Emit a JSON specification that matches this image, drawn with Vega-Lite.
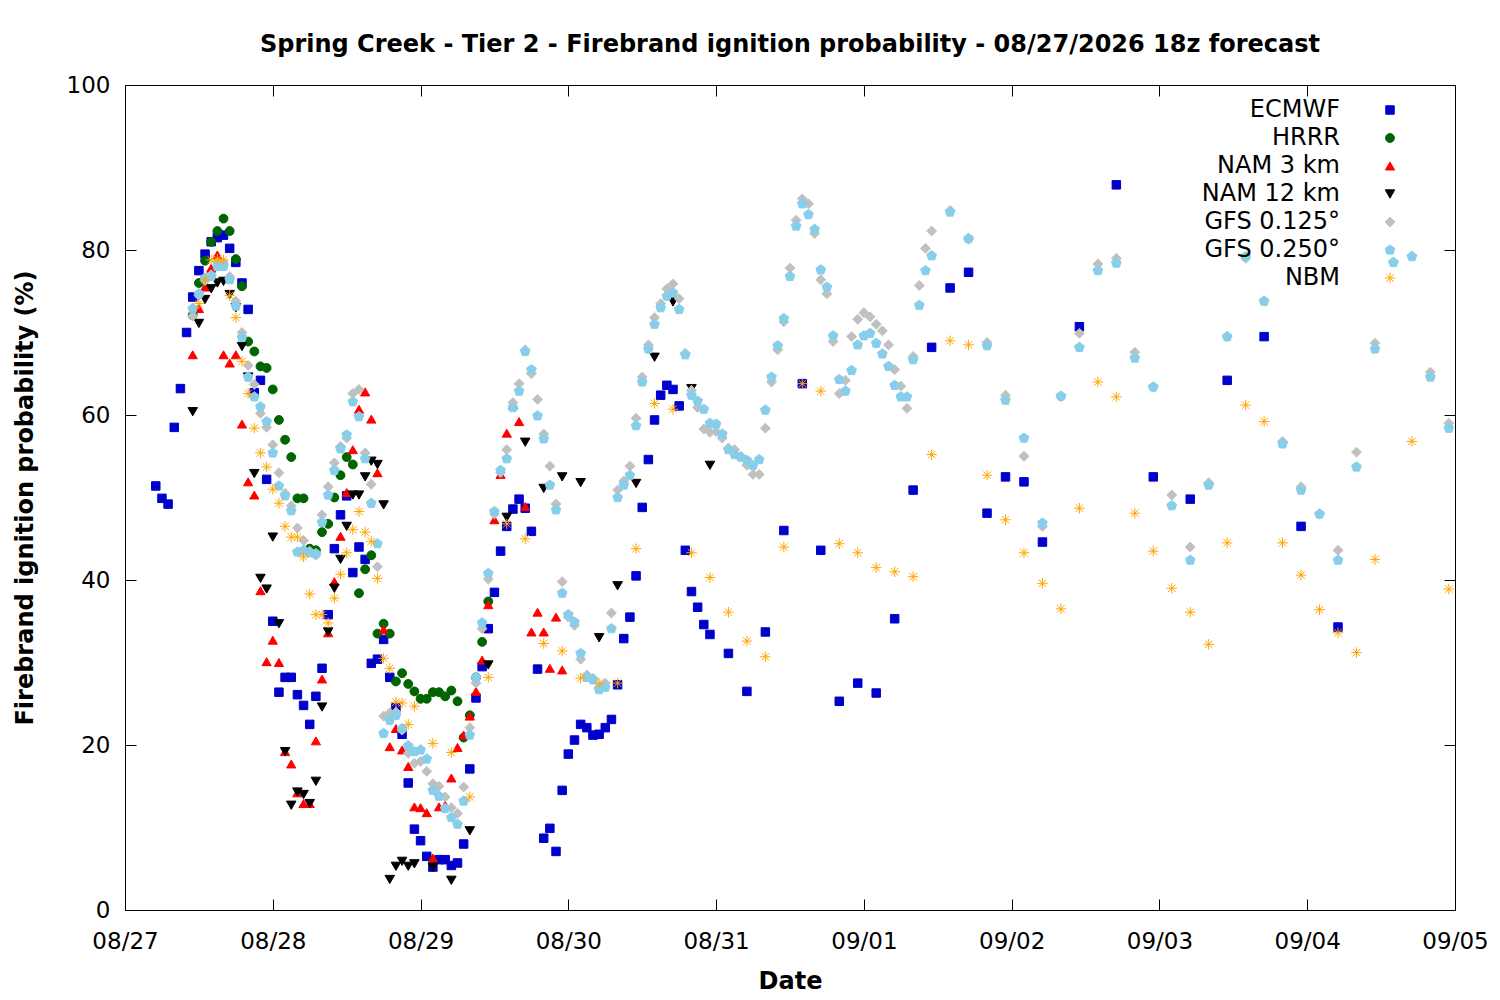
{
  "$schema": "https://vega.github.io/schema/vega-lite/v6.json",
  "autosize": "none",
  "width": 1330,
  "height": 825,
  "padding": {"left": 125, "top": 85, "right": 45, "bottom": 90},
  "background": "white",
  "title": {
    "text": "Spring Creek - Tier 2 - Firebrand ignition probability - 08/27/2026 18z forecast",
    "fontSize": 24,
    "fontWeight": "bold",
    "color": "black",
    "anchor": "middle",
    "offset": 17
  },
  "data": {
    "values": [
      {"m": "ECMWF", "h": 5, "v": 51.4}, {"m": "ECMWF", "h": 6, "v": 49.9}, {"m": "ECMWF", "h": 7, "v": 49.2},
      {"m": "ECMWF", "h": 8, "v": 58.5}, {"m": "ECMWF", "h": 9, "v": 63.2}, {"m": "ECMWF", "h": 10, "v": 70.0},
      {"m": "ECMWF", "h": 11, "v": 74.3}, {"m": "ECMWF", "h": 12, "v": 77.5}, {"m": "ECMWF", "h": 13, "v": 79.5},
      {"m": "ECMWF", "h": 14, "v": 81.0}, {"m": "ECMWF", "h": 15, "v": 81.5}, {"m": "ECMWF", "h": 16, "v": 81.8},
      {"m": "ECMWF", "h": 17, "v": 80.2}, {"m": "ECMWF", "h": 18, "v": 78.5}, {"m": "ECMWF", "h": 19, "v": 76.0},
      {"m": "ECMWF", "h": 20, "v": 72.8}, {"m": "ECMWF", "h": 21, "v": 62.7}, {"m": "ECMWF", "h": 22, "v": 64.2},
      {"m": "ECMWF", "h": 23, "v": 52.2}, {"m": "ECMWF", "h": 24, "v": 35.0}, {"m": "ECMWF", "h": 25, "v": 26.4},
      {"m": "ECMWF", "h": 26, "v": 28.2}, {"m": "ECMWF", "h": 27, "v": 28.2}, {"m": "ECMWF", "h": 28, "v": 26.1},
      {"m": "ECMWF", "h": 29, "v": 24.8}, {"m": "ECMWF", "h": 30, "v": 22.5}, {"m": "ECMWF", "h": 31, "v": 25.9},
      {"m": "ECMWF", "h": 32, "v": 29.3}, {"m": "ECMWF", "h": 33, "v": 35.8}, {"m": "ECMWF", "h": 34, "v": 43.8},
      {"m": "ECMWF", "h": 35, "v": 47.9}, {"m": "ECMWF", "h": 36, "v": 50.2}, {"m": "ECMWF", "h": 37, "v": 40.9},
      {"m": "ECMWF", "h": 38, "v": 44.0}, {"m": "ECMWF", "h": 39, "v": 42.5}, {"m": "ECMWF", "h": 40, "v": 29.9},
      {"m": "ECMWF", "h": 41, "v": 30.4}, {"m": "ECMWF", "h": 42, "v": 32.8}, {"m": "ECMWF", "h": 43, "v": 28.2},
      {"m": "ECMWF", "h": 44, "v": 24.5}, {"m": "ECMWF", "h": 45, "v": 21.3}, {"m": "ECMWF", "h": 46, "v": 15.4},
      {"m": "ECMWF", "h": 47, "v": 9.8}, {"m": "ECMWF", "h": 48, "v": 8.4}, {"m": "ECMWF", "h": 49, "v": 6.5},
      {"m": "ECMWF", "h": 50, "v": 5.2}, {"m": "ECMWF", "h": 51, "v": 6.1}, {"m": "ECMWF", "h": 52, "v": 6.1},
      {"m": "ECMWF", "h": 53, "v": 5.4}, {"m": "ECMWF", "h": 54, "v": 5.7}, {"m": "ECMWF", "h": 55, "v": 8.0},
      {"m": "ECMWF", "h": 56, "v": 17.1}, {"m": "ECMWF", "h": 57, "v": 25.7}, {"m": "ECMWF", "h": 58, "v": 29.5},
      {"m": "ECMWF", "h": 59, "v": 34.1}, {"m": "ECMWF", "h": 60, "v": 38.5}, {"m": "ECMWF", "h": 61, "v": 43.5},
      {"m": "ECMWF", "h": 62, "v": 46.5}, {"m": "ECMWF", "h": 63, "v": 48.6}, {"m": "ECMWF", "h": 64, "v": 49.8},
      {"m": "ECMWF", "h": 65, "v": 48.7}, {"m": "ECMWF", "h": 66, "v": 45.9}, {"m": "ECMWF", "h": 67, "v": 29.2},
      {"m": "ECMWF", "h": 68, "v": 8.7}, {"m": "ECMWF", "h": 69, "v": 9.9}, {"m": "ECMWF", "h": 70, "v": 7.1},
      {"m": "ECMWF", "h": 71, "v": 14.5}, {"m": "ECMWF", "h": 72, "v": 18.9}, {"m": "ECMWF", "h": 73, "v": 20.6},
      {"m": "ECMWF", "h": 74, "v": 22.5}, {"m": "ECMWF", "h": 75, "v": 22.1}, {"m": "ECMWF", "h": 76, "v": 21.2},
      {"m": "ECMWF", "h": 77, "v": 21.3}, {"m": "ECMWF", "h": 78, "v": 22.1}, {"m": "ECMWF", "h": 79, "v": 23.1},
      {"m": "ECMWF", "h": 80, "v": 27.3}, {"m": "ECMWF", "h": 81, "v": 32.9}, {"m": "ECMWF", "h": 82, "v": 35.5},
      {"m": "ECMWF", "h": 83, "v": 40.5}, {"m": "ECMWF", "h": 84, "v": 48.8}, {"m": "ECMWF", "h": 85, "v": 54.6},
      {"m": "ECMWF", "h": 86, "v": 59.4}, {"m": "ECMWF", "h": 87, "v": 62.4}, {"m": "ECMWF", "h": 88, "v": 63.6},
      {"m": "ECMWF", "h": 89, "v": 63.1}, {"m": "ECMWF", "h": 90, "v": 61.1}, {"m": "ECMWF", "h": 91, "v": 43.6},
      {"m": "ECMWF", "h": 92, "v": 38.6}, {"m": "ECMWF", "h": 93, "v": 36.7}, {"m": "ECMWF", "h": 94, "v": 34.6},
      {"m": "ECMWF", "h": 95, "v": 33.4}, {"m": "ECMWF", "h": 98, "v": 31.1}, {"m": "ECMWF", "h": 101, "v": 26.5},
      {"m": "ECMWF", "h": 104, "v": 33.7}, {"m": "ECMWF", "h": 107, "v": 46.0}, {"m": "ECMWF", "h": 110, "v": 63.8},
      {"m": "ECMWF", "h": 113, "v": 43.6}, {"m": "ECMWF", "h": 116, "v": 25.3}, {"m": "ECMWF", "h": 119, "v": 27.5},
      {"m": "ECMWF", "h": 122, "v": 26.3}, {"m": "ECMWF", "h": 125, "v": 35.3}, {"m": "ECMWF", "h": 128, "v": 50.9},
      {"m": "ECMWF", "h": 131, "v": 68.2}, {"m": "ECMWF", "h": 134, "v": 75.4}, {"m": "ECMWF", "h": 137, "v": 77.3},
      {"m": "ECMWF", "h": 140, "v": 48.1}, {"m": "ECMWF", "h": 143, "v": 52.5}, {"m": "ECMWF", "h": 146, "v": 51.9},
      {"m": "ECMWF", "h": 149, "v": 44.6}, {"m": "ECMWF", "h": 155, "v": 70.7}, {"m": "ECMWF", "h": 161, "v": 87.9},
      {"m": "ECMWF", "h": 167, "v": 52.5}, {"m": "ECMWF", "h": 173, "v": 49.8}, {"m": "ECMWF", "h": 179, "v": 64.2},
      {"m": "ECMWF", "h": 185, "v": 69.5}, {"m": "ECMWF", "h": 191, "v": 46.5}, {"m": "ECMWF", "h": 197, "v": 34.3},

      {"m": "HRRR", "h": 11, "v": 72.1}, {"m": "HRRR", "h": 12, "v": 76.0}, {"m": "HRRR", "h": 13, "v": 78.7},
      {"m": "HRRR", "h": 14, "v": 81.0}, {"m": "HRRR", "h": 15, "v": 82.3}, {"m": "HRRR", "h": 16, "v": 83.8},
      {"m": "HRRR", "h": 17, "v": 82.3}, {"m": "HRRR", "h": 18, "v": 78.9}, {"m": "HRRR", "h": 19, "v": 75.6},
      {"m": "HRRR", "h": 20, "v": 68.9}, {"m": "HRRR", "h": 21, "v": 67.7}, {"m": "HRRR", "h": 22, "v": 65.9},
      {"m": "HRRR", "h": 23, "v": 65.7}, {"m": "HRRR", "h": 24, "v": 63.1}, {"m": "HRRR", "h": 25, "v": 59.4},
      {"m": "HRRR", "h": 26, "v": 57.0}, {"m": "HRRR", "h": 27, "v": 54.9}, {"m": "HRRR", "h": 28, "v": 49.9},
      {"m": "HRRR", "h": 29, "v": 49.9}, {"m": "HRRR", "h": 30, "v": 43.8}, {"m": "HRRR", "h": 31, "v": 43.6},
      {"m": "HRRR", "h": 32, "v": 45.8}, {"m": "HRRR", "h": 33, "v": 46.8}, {"m": "HRRR", "h": 34, "v": 50.0},
      {"m": "HRRR", "h": 35, "v": 52.7}, {"m": "HRRR", "h": 36, "v": 54.9}, {"m": "HRRR", "h": 37, "v": 54.0},
      {"m": "HRRR", "h": 38, "v": 38.4}, {"m": "HRRR", "h": 39, "v": 41.3}, {"m": "HRRR", "h": 40, "v": 43.0},
      {"m": "HRRR", "h": 41, "v": 33.5}, {"m": "HRRR", "h": 42, "v": 34.7}, {"m": "HRRR", "h": 43, "v": 33.5},
      {"m": "HRRR", "h": 44, "v": 27.7}, {"m": "HRRR", "h": 45, "v": 28.7}, {"m": "HRRR", "h": 46, "v": 27.4},
      {"m": "HRRR", "h": 47, "v": 26.5}, {"m": "HRRR", "h": 48, "v": 25.6}, {"m": "HRRR", "h": 49, "v": 25.6},
      {"m": "HRRR", "h": 50, "v": 26.4}, {"m": "HRRR", "h": 51, "v": 26.4}, {"m": "HRRR", "h": 52, "v": 25.9},
      {"m": "HRRR", "h": 53, "v": 26.6}, {"m": "HRRR", "h": 54, "v": 25.3}, {"m": "HRRR", "h": 55, "v": 20.9},
      {"m": "HRRR", "h": 56, "v": 23.6}, {"m": "HRRR", "h": 57, "v": 28.2}, {"m": "HRRR", "h": 58, "v": 32.5},
      {"m": "HRRR", "h": 59, "v": 37.4},

      {"m": "NAM 3 km", "h": 11, "v": 67.3}, {"m": "NAM 3 km", "h": 12, "v": 72.9}, {"m": "NAM 3 km", "h": 13, "v": 75.5},
      {"m": "NAM 3 km", "h": 14, "v": 77.8}, {"m": "NAM 3 km", "h": 15, "v": 79.4}, {"m": "NAM 3 km", "h": 16, "v": 67.3},
      {"m": "NAM 3 km", "h": 17, "v": 66.3}, {"m": "NAM 3 km", "h": 18, "v": 67.3}, {"m": "NAM 3 km", "h": 19, "v": 58.9},
      {"m": "NAM 3 km", "h": 20, "v": 51.9}, {"m": "NAM 3 km", "h": 21, "v": 50.3}, {"m": "NAM 3 km", "h": 22, "v": 38.7},
      {"m": "NAM 3 km", "h": 23, "v": 30.1}, {"m": "NAM 3 km", "h": 24, "v": 32.7}, {"m": "NAM 3 km", "h": 25, "v": 30.0},
      {"m": "NAM 3 km", "h": 26, "v": 19.2}, {"m": "NAM 3 km", "h": 27, "v": 17.7}, {"m": "NAM 3 km", "h": 28, "v": 14.2},
      {"m": "NAM 3 km", "h": 29, "v": 12.9}, {"m": "NAM 3 km", "h": 30, "v": 12.9}, {"m": "NAM 3 km", "h": 31, "v": 20.5},
      {"m": "NAM 3 km", "h": 32, "v": 28.0}, {"m": "NAM 3 km", "h": 33, "v": 33.6}, {"m": "NAM 3 km", "h": 34, "v": 39.8},
      {"m": "NAM 3 km", "h": 35, "v": 45.3}, {"m": "NAM 3 km", "h": 36, "v": 50.6}, {"m": "NAM 3 km", "h": 37, "v": 55.8},
      {"m": "NAM 3 km", "h": 38, "v": 60.7}, {"m": "NAM 3 km", "h": 39, "v": 62.8}, {"m": "NAM 3 km", "h": 40, "v": 59.5},
      {"m": "NAM 3 km", "h": 41, "v": 53.0}, {"m": "NAM 3 km", "h": 42, "v": 34.0}, {"m": "NAM 3 km", "h": 43, "v": 19.8},
      {"m": "NAM 3 km", "h": 44, "v": 22.0}, {"m": "NAM 3 km", "h": 45, "v": 19.4}, {"m": "NAM 3 km", "h": 46, "v": 17.4},
      {"m": "NAM 3 km", "h": 47, "v": 12.5}, {"m": "NAM 3 km", "h": 48, "v": 12.4}, {"m": "NAM 3 km", "h": 49, "v": 11.8},
      {"m": "NAM 3 km", "h": 50, "v": 6.3}, {"m": "NAM 3 km", "h": 51, "v": 12.5}, {"m": "NAM 3 km", "h": 52, "v": 12.7},
      {"m": "NAM 3 km", "h": 53, "v": 16.0}, {"m": "NAM 3 km", "h": 54, "v": 19.7}, {"m": "NAM 3 km", "h": 55, "v": 21.2},
      {"m": "NAM 3 km", "h": 56, "v": 23.5}, {"m": "NAM 3 km", "h": 57, "v": 26.5}, {"m": "NAM 3 km", "h": 58, "v": 30.3},
      {"m": "NAM 3 km", "h": 59, "v": 37.0}, {"m": "NAM 3 km", "h": 60, "v": 47.3}, {"m": "NAM 3 km", "h": 61, "v": 52.8},
      {"m": "NAM 3 km", "h": 62, "v": 57.8}, {"m": "NAM 3 km", "h": 63, "v": 61.2}, {"m": "NAM 3 km", "h": 64, "v": 59.2},
      {"m": "NAM 3 km", "h": 65, "v": 48.9}, {"m": "NAM 3 km", "h": 66, "v": 33.7}, {"m": "NAM 3 km", "h": 67, "v": 36.1},
      {"m": "NAM 3 km", "h": 68, "v": 33.7}, {"m": "NAM 3 km", "h": 69, "v": 29.3}, {"m": "NAM 3 km", "h": 70, "v": 35.5},
      {"m": "NAM 3 km", "h": 71, "v": 29.1},

      {"m": "NAM 12 km", "h": 11, "v": 60.4}, {"m": "NAM 12 km", "h": 12, "v": 71.1}, {"m": "NAM 12 km", "h": 13, "v": 74.0},
      {"m": "NAM 12 km", "h": 14, "v": 75.3}, {"m": "NAM 12 km", "h": 15, "v": 76.0}, {"m": "NAM 12 km", "h": 16, "v": 76.2},
      {"m": "NAM 12 km", "h": 17, "v": 74.6}, {"m": "NAM 12 km", "h": 18, "v": 73.0}, {"m": "NAM 12 km", "h": 19, "v": 68.3},
      {"m": "NAM 12 km", "h": 20, "v": 64.6}, {"m": "NAM 12 km", "h": 21, "v": 52.9}, {"m": "NAM 12 km", "h": 22, "v": 40.2},
      {"m": "NAM 12 km", "h": 23, "v": 38.9}, {"m": "NAM 12 km", "h": 24, "v": 45.2}, {"m": "NAM 12 km", "h": 25, "v": 34.7},
      {"m": "NAM 12 km", "h": 26, "v": 19.2}, {"m": "NAM 12 km", "h": 27, "v": 12.7}, {"m": "NAM 12 km", "h": 28, "v": 14.3},
      {"m": "NAM 12 km", "h": 29, "v": 14.0}, {"m": "NAM 12 km", "h": 30, "v": 12.9}, {"m": "NAM 12 km", "h": 31, "v": 15.6},
      {"m": "NAM 12 km", "h": 32, "v": 24.6}, {"m": "NAM 12 km", "h": 33, "v": 33.7}, {"m": "NAM 12 km", "h": 34, "v": 39.0},
      {"m": "NAM 12 km", "h": 35, "v": 42.5}, {"m": "NAM 12 km", "h": 36, "v": 46.5}, {"m": "NAM 12 km", "h": 37, "v": 50.3},
      {"m": "NAM 12 km", "h": 38, "v": 50.3}, {"m": "NAM 12 km", "h": 39, "v": 52.5}, {"m": "NAM 12 km", "h": 40, "v": 54.4},
      {"m": "NAM 12 km", "h": 41, "v": 54.0}, {"m": "NAM 12 km", "h": 42, "v": 49.1}, {"m": "NAM 12 km", "h": 43, "v": 3.7},
      {"m": "NAM 12 km", "h": 44, "v": 5.3}, {"m": "NAM 12 km", "h": 45, "v": 5.9}, {"m": "NAM 12 km", "h": 46, "v": 5.3},
      {"m": "NAM 12 km", "h": 47, "v": 5.6}, {"m": "NAM 12 km", "h": 50, "v": 5.2}, {"m": "NAM 12 km", "h": 53, "v": 3.6},
      {"m": "NAM 12 km", "h": 56, "v": 9.6}, {"m": "NAM 12 km", "h": 59, "v": 29.7}, {"m": "NAM 12 km", "h": 62, "v": 47.6},
      {"m": "NAM 12 km", "h": 65, "v": 56.7}, {"m": "NAM 12 km", "h": 68, "v": 51.1}, {"m": "NAM 12 km", "h": 71, "v": 52.5},
      {"m": "NAM 12 km", "h": 74, "v": 51.8}, {"m": "NAM 12 km", "h": 77, "v": 33.0}, {"m": "NAM 12 km", "h": 80, "v": 39.3},
      {"m": "NAM 12 km", "h": 83, "v": 51.7}, {"m": "NAM 12 km", "h": 86, "v": 67.0}, {"m": "NAM 12 km", "h": 89, "v": 73.7},
      {"m": "NAM 12 km", "h": 92, "v": 63.2}, {"m": "NAM 12 km", "h": 95, "v": 53.9},

      {"m": "GFS 0.125°", "h": 11, "v": 72.0}, {"m": "GFS 0.125°", "h": 12, "v": 74.5}, {"m": "GFS 0.125°", "h": 13, "v": 76.3},
      {"m": "GFS 0.125°", "h": 14, "v": 77.0}, {"m": "GFS 0.125°", "h": 15, "v": 78.5}, {"m": "GFS 0.125°", "h": 16, "v": 78.5},
      {"m": "GFS 0.125°", "h": 17, "v": 76.8}, {"m": "GFS 0.125°", "h": 18, "v": 73.8}, {"m": "GFS 0.125°", "h": 19, "v": 70.0},
      {"m": "GFS 0.125°", "h": 20, "v": 66.0}, {"m": "GFS 0.125°", "h": 21, "v": 63.7}, {"m": "GFS 0.125°", "h": 22, "v": 60.2},
      {"m": "GFS 0.125°", "h": 23, "v": 58.5}, {"m": "GFS 0.125°", "h": 24, "v": 56.4}, {"m": "GFS 0.125°", "h": 25, "v": 53.0},
      {"m": "GFS 0.125°", "h": 26, "v": 50.5}, {"m": "GFS 0.125°", "h": 27, "v": 49.0}, {"m": "GFS 0.125°", "h": 28, "v": 46.3},
      {"m": "GFS 0.125°", "h": 29, "v": 44.8}, {"m": "GFS 0.125°", "h": 30, "v": 43.5}, {"m": "GFS 0.125°", "h": 31, "v": 43.0},
      {"m": "GFS 0.125°", "h": 32, "v": 47.9}, {"m": "GFS 0.125°", "h": 33, "v": 51.3}, {"m": "GFS 0.125°", "h": 34, "v": 54.2},
      {"m": "GFS 0.125°", "h": 35, "v": 56.2}, {"m": "GFS 0.125°", "h": 36, "v": 57.2}, {"m": "GFS 0.125°", "h": 37, "v": 62.6},
      {"m": "GFS 0.125°", "h": 38, "v": 63.1}, {"m": "GFS 0.125°", "h": 39, "v": 55.4}, {"m": "GFS 0.125°", "h": 40, "v": 51.6},
      {"m": "GFS 0.125°", "h": 41, "v": 41.6}, {"m": "GFS 0.125°", "h": 42, "v": 23.5}, {"m": "GFS 0.125°", "h": 43, "v": 23.9},
      {"m": "GFS 0.125°", "h": 44, "v": 24.0}, {"m": "GFS 0.125°", "h": 45, "v": 21.8}, {"m": "GFS 0.125°", "h": 46, "v": 19.0},
      {"m": "GFS 0.125°", "h": 47, "v": 17.8}, {"m": "GFS 0.125°", "h": 48, "v": 18.0}, {"m": "GFS 0.125°", "h": 49, "v": 16.8},
      {"m": "GFS 0.125°", "h": 50, "v": 15.3}, {"m": "GFS 0.125°", "h": 51, "v": 15.0}, {"m": "GFS 0.125°", "h": 52, "v": 13.7},
      {"m": "GFS 0.125°", "h": 53, "v": 12.4}, {"m": "GFS 0.125°", "h": 54, "v": 11.7}, {"m": "GFS 0.125°", "h": 55, "v": 14.9},
      {"m": "GFS 0.125°", "h": 56, "v": 22.1}, {"m": "GFS 0.125°", "h": 57, "v": 27.5}, {"m": "GFS 0.125°", "h": 58, "v": 34.1},
      {"m": "GFS 0.125°", "h": 59, "v": 40.1}, {"m": "GFS 0.125°", "h": 60, "v": 48.0}, {"m": "GFS 0.125°", "h": 61, "v": 53.0},
      {"m": "GFS 0.125°", "h": 62, "v": 55.8}, {"m": "GFS 0.125°", "h": 63, "v": 61.5}, {"m": "GFS 0.125°", "h": 64, "v": 63.8},
      {"m": "GFS 0.125°", "h": 65, "v": 67.9}, {"m": "GFS 0.125°", "h": 66, "v": 65.0}, {"m": "GFS 0.125°", "h": 67, "v": 61.9},
      {"m": "GFS 0.125°", "h": 68, "v": 57.7}, {"m": "GFS 0.125°", "h": 69, "v": 53.8}, {"m": "GFS 0.125°", "h": 70, "v": 49.2},
      {"m": "GFS 0.125°", "h": 71, "v": 39.8}, {"m": "GFS 0.125°", "h": 72, "v": 35.5}, {"m": "GFS 0.125°", "h": 73, "v": 34.5},
      {"m": "GFS 0.125°", "h": 74, "v": 30.4}, {"m": "GFS 0.125°", "h": 75, "v": 28.5}, {"m": "GFS 0.125°", "h": 76, "v": 28.1},
      {"m": "GFS 0.125°", "h": 77, "v": 27.0}, {"m": "GFS 0.125°", "h": 78, "v": 27.5}, {"m": "GFS 0.125°", "h": 79, "v": 36.0},
      {"m": "GFS 0.125°", "h": 80, "v": 50.9}, {"m": "GFS 0.125°", "h": 81, "v": 52.0}, {"m": "GFS 0.125°", "h": 82, "v": 53.8},
      {"m": "GFS 0.125°", "h": 83, "v": 59.6}, {"m": "GFS 0.125°", "h": 84, "v": 64.6}, {"m": "GFS 0.125°", "h": 85, "v": 68.5},
      {"m": "GFS 0.125°", "h": 86, "v": 71.8}, {"m": "GFS 0.125°", "h": 87, "v": 73.5}, {"m": "GFS 0.125°", "h": 88, "v": 75.3},
      {"m": "GFS 0.125°", "h": 89, "v": 75.9}, {"m": "GFS 0.125°", "h": 90, "v": 74.1}, {"m": "GFS 0.125°", "h": 91, "v": 67.5},
      {"m": "GFS 0.125°", "h": 92, "v": 63.0}, {"m": "GFS 0.125°", "h": 93, "v": 60.9}, {"m": "GFS 0.125°", "h": 94, "v": 58.3},
      {"m": "GFS 0.125°", "h": 95, "v": 57.9}, {"m": "GFS 0.125°", "h": 96, "v": 58.0}, {"m": "GFS 0.125°", "h": 97, "v": 57.2},
      {"m": "GFS 0.125°", "h": 98, "v": 56.0}, {"m": "GFS 0.125°", "h": 99, "v": 55.8}, {"m": "GFS 0.125°", "h": 100, "v": 55.0},
      {"m": "GFS 0.125°", "h": 101, "v": 53.9}, {"m": "GFS 0.125°", "h": 102, "v": 52.8}, {"m": "GFS 0.125°", "h": 103, "v": 52.8},
      {"m": "GFS 0.125°", "h": 104, "v": 58.4}, {"m": "GFS 0.125°", "h": 105, "v": 64.0}, {"m": "GFS 0.125°", "h": 106, "v": 67.9},
      {"m": "GFS 0.125°", "h": 107, "v": 71.3}, {"m": "GFS 0.125°", "h": 108, "v": 77.8}, {"m": "GFS 0.125°", "h": 109, "v": 83.6},
      {"m": "GFS 0.125°", "h": 110, "v": 86.2}, {"m": "GFS 0.125°", "h": 111, "v": 85.6}, {"m": "GFS 0.125°", "h": 112, "v": 82.0},
      {"m": "GFS 0.125°", "h": 113, "v": 76.4}, {"m": "GFS 0.125°", "h": 114, "v": 74.7}, {"m": "GFS 0.125°", "h": 115, "v": 68.9},
      {"m": "GFS 0.125°", "h": 116, "v": 62.6}, {"m": "GFS 0.125°", "h": 117, "v": 64.2}, {"m": "GFS 0.125°", "h": 118, "v": 69.5},
      {"m": "GFS 0.125°", "h": 119, "v": 71.6}, {"m": "GFS 0.125°", "h": 120, "v": 72.4}, {"m": "GFS 0.125°", "h": 121, "v": 71.9},
      {"m": "GFS 0.125°", "h": 122, "v": 71.0}, {"m": "GFS 0.125°", "h": 123, "v": 70.2}, {"m": "GFS 0.125°", "h": 124, "v": 68.5},
      {"m": "GFS 0.125°", "h": 125, "v": 65.5}, {"m": "GFS 0.125°", "h": 126, "v": 63.5}, {"m": "GFS 0.125°", "h": 127, "v": 60.8},
      {"m": "GFS 0.125°", "h": 128, "v": 67.1}, {"m": "GFS 0.125°", "h": 129, "v": 75.7}, {"m": "GFS 0.125°", "h": 130, "v": 80.2},
      {"m": "GFS 0.125°", "h": 131, "v": 82.3}, {"m": "GFS 0.125°", "h": 134, "v": 84.8}, {"m": "GFS 0.125°", "h": 137, "v": 81.3},
      {"m": "GFS 0.125°", "h": 140, "v": 68.8}, {"m": "GFS 0.125°", "h": 143, "v": 62.4}, {"m": "GFS 0.125°", "h": 146, "v": 55.0},
      {"m": "GFS 0.125°", "h": 149, "v": 46.5}, {"m": "GFS 0.125°", "h": 152, "v": 62.2}, {"m": "GFS 0.125°", "h": 155, "v": 69.9},
      {"m": "GFS 0.125°", "h": 158, "v": 78.3}, {"m": "GFS 0.125°", "h": 161, "v": 79.0}, {"m": "GFS 0.125°", "h": 164, "v": 67.6},
      {"m": "GFS 0.125°", "h": 167, "v": 63.4}, {"m": "GFS 0.125°", "h": 170, "v": 50.3}, {"m": "GFS 0.125°", "h": 173, "v": 44.0},
      {"m": "GFS 0.125°", "h": 176, "v": 51.8}, {"m": "GFS 0.125°", "h": 179, "v": 69.5}, {"m": "GFS 0.125°", "h": 182, "v": 79.0},
      {"m": "GFS 0.125°", "h": 185, "v": 73.8}, {"m": "GFS 0.125°", "h": 188, "v": 56.8}, {"m": "GFS 0.125°", "h": 191, "v": 51.3},
      {"m": "GFS 0.125°", "h": 194, "v": 48.0}, {"m": "GFS 0.125°", "h": 197, "v": 43.6}, {"m": "GFS 0.125°", "h": 200, "v": 55.5},
      {"m": "GFS 0.125°", "h": 203, "v": 68.7}, {"m": "GFS 0.125°", "h": 206, "v": 78.5}, {"m": "GFS 0.125°", "h": 209, "v": 79.3},
      {"m": "GFS 0.125°", "h": 212, "v": 65.2}, {"m": "GFS 0.125°", "h": 215, "v": 59.0},

      {"m": "GFS 0.250°", "h": 11, "v": 72.9}, {"m": "GFS 0.250°", "h": 12, "v": 74.7}, {"m": "GFS 0.250°", "h": 13, "v": 76.6},
      {"m": "GFS 0.250°", "h": 14, "v": 76.8}, {"m": "GFS 0.250°", "h": 15, "v": 78.0}, {"m": "GFS 0.250°", "h": 16, "v": 78.0},
      {"m": "GFS 0.250°", "h": 17, "v": 76.4}, {"m": "GFS 0.250°", "h": 18, "v": 73.2}, {"m": "GFS 0.250°", "h": 19, "v": 69.4},
      {"m": "GFS 0.250°", "h": 20, "v": 64.6}, {"m": "GFS 0.250°", "h": 21, "v": 62.2}, {"m": "GFS 0.250°", "h": 22, "v": 61.0},
      {"m": "GFS 0.250°", "h": 23, "v": 59.2}, {"m": "GFS 0.250°", "h": 24, "v": 55.4}, {"m": "GFS 0.250°", "h": 25, "v": 51.4},
      {"m": "GFS 0.250°", "h": 26, "v": 50.2}, {"m": "GFS 0.250°", "h": 27, "v": 48.4}, {"m": "GFS 0.250°", "h": 28, "v": 43.4},
      {"m": "GFS 0.250°", "h": 29, "v": 43.6}, {"m": "GFS 0.250°", "h": 30, "v": 43.3}, {"m": "GFS 0.250°", "h": 31, "v": 43.2},
      {"m": "GFS 0.250°", "h": 32, "v": 47.0}, {"m": "GFS 0.250°", "h": 33, "v": 50.3}, {"m": "GFS 0.250°", "h": 34, "v": 53.3},
      {"m": "GFS 0.250°", "h": 35, "v": 55.9}, {"m": "GFS 0.250°", "h": 36, "v": 57.6}, {"m": "GFS 0.250°", "h": 37, "v": 61.6},
      {"m": "GFS 0.250°", "h": 38, "v": 59.8}, {"m": "GFS 0.250°", "h": 39, "v": 54.7}, {"m": "GFS 0.250°", "h": 40, "v": 49.3},
      {"m": "GFS 0.250°", "h": 41, "v": 44.4}, {"m": "GFS 0.250°", "h": 42, "v": 21.4}, {"m": "GFS 0.250°", "h": 43, "v": 23.0},
      {"m": "GFS 0.250°", "h": 44, "v": 23.6}, {"m": "GFS 0.250°", "h": 45, "v": 22.0}, {"m": "GFS 0.250°", "h": 46, "v": 19.9},
      {"m": "GFS 0.250°", "h": 47, "v": 19.2}, {"m": "GFS 0.250°", "h": 48, "v": 19.4}, {"m": "GFS 0.250°", "h": 49, "v": 18.3},
      {"m": "GFS 0.250°", "h": 50, "v": 14.5}, {"m": "GFS 0.250°", "h": 51, "v": 13.8}, {"m": "GFS 0.250°", "h": 52, "v": 12.3},
      {"m": "GFS 0.250°", "h": 53, "v": 11.2}, {"m": "GFS 0.250°", "h": 54, "v": 10.4}, {"m": "GFS 0.250°", "h": 55, "v": 13.2},
      {"m": "GFS 0.250°", "h": 56, "v": 21.2}, {"m": "GFS 0.250°", "h": 57, "v": 28.2}, {"m": "GFS 0.250°", "h": 58, "v": 34.8},
      {"m": "GFS 0.250°", "h": 59, "v": 40.8}, {"m": "GFS 0.250°", "h": 60, "v": 48.3}, {"m": "GFS 0.250°", "h": 61, "v": 53.3},
      {"m": "GFS 0.250°", "h": 62, "v": 54.7}, {"m": "GFS 0.250°", "h": 63, "v": 60.9}, {"m": "GFS 0.250°", "h": 64, "v": 62.9},
      {"m": "GFS 0.250°", "h": 65, "v": 67.7}, {"m": "GFS 0.250°", "h": 66, "v": 65.5}, {"m": "GFS 0.250°", "h": 67, "v": 59.9},
      {"m": "GFS 0.250°", "h": 68, "v": 57.1}, {"m": "GFS 0.250°", "h": 69, "v": 51.5}, {"m": "GFS 0.250°", "h": 70, "v": 48.5},
      {"m": "GFS 0.250°", "h": 71, "v": 38.4}, {"m": "GFS 0.250°", "h": 72, "v": 35.8}, {"m": "GFS 0.250°", "h": 73, "v": 34.9},
      {"m": "GFS 0.250°", "h": 74, "v": 31.1}, {"m": "GFS 0.250°", "h": 75, "v": 28.2}, {"m": "GFS 0.250°", "h": 76, "v": 27.9},
      {"m": "GFS 0.250°", "h": 77, "v": 26.7}, {"m": "GFS 0.250°", "h": 78, "v": 27.0}, {"m": "GFS 0.250°", "h": 79, "v": 34.1},
      {"m": "GFS 0.250°", "h": 80, "v": 50.0}, {"m": "GFS 0.250°", "h": 81, "v": 51.5}, {"m": "GFS 0.250°", "h": 82, "v": 52.7},
      {"m": "GFS 0.250°", "h": 83, "v": 58.7}, {"m": "GFS 0.250°", "h": 84, "v": 64.0}, {"m": "GFS 0.250°", "h": 85, "v": 68.0},
      {"m": "GFS 0.250°", "h": 86, "v": 71.0}, {"m": "GFS 0.250°", "h": 87, "v": 73.0}, {"m": "GFS 0.250°", "h": 88, "v": 74.4},
      {"m": "GFS 0.250°", "h": 89, "v": 74.8}, {"m": "GFS 0.250°", "h": 90, "v": 72.8}, {"m": "GFS 0.250°", "h": 91, "v": 67.3},
      {"m": "GFS 0.250°", "h": 92, "v": 62.4}, {"m": "GFS 0.250°", "h": 93, "v": 61.7}, {"m": "GFS 0.250°", "h": 94, "v": 60.7},
      {"m": "GFS 0.250°", "h": 95, "v": 59.0}, {"m": "GFS 0.250°", "h": 96, "v": 58.9}, {"m": "GFS 0.250°", "h": 97, "v": 57.7},
      {"m": "GFS 0.250°", "h": 98, "v": 55.8}, {"m": "GFS 0.250°", "h": 99, "v": 55.2}, {"m": "GFS 0.250°", "h": 100, "v": 54.9},
      {"m": "GFS 0.250°", "h": 101, "v": 54.5}, {"m": "GFS 0.250°", "h": 102, "v": 53.9}, {"m": "GFS 0.250°", "h": 103, "v": 54.6},
      {"m": "GFS 0.250°", "h": 104, "v": 60.6}, {"m": "GFS 0.250°", "h": 105, "v": 64.6}, {"m": "GFS 0.250°", "h": 106, "v": 68.4},
      {"m": "GFS 0.250°", "h": 107, "v": 71.7}, {"m": "GFS 0.250°", "h": 108, "v": 76.8}, {"m": "GFS 0.250°", "h": 109, "v": 82.9},
      {"m": "GFS 0.250°", "h": 110, "v": 85.6}, {"m": "GFS 0.250°", "h": 111, "v": 84.3}, {"m": "GFS 0.250°", "h": 112, "v": 82.5},
      {"m": "GFS 0.250°", "h": 113, "v": 77.6}, {"m": "GFS 0.250°", "h": 114, "v": 75.5}, {"m": "GFS 0.250°", "h": 115, "v": 69.6},
      {"m": "GFS 0.250°", "h": 116, "v": 64.3}, {"m": "GFS 0.250°", "h": 117, "v": 62.9}, {"m": "GFS 0.250°", "h": 118, "v": 65.4},
      {"m": "GFS 0.250°", "h": 119, "v": 68.5}, {"m": "GFS 0.250°", "h": 120, "v": 69.6}, {"m": "GFS 0.250°", "h": 121, "v": 69.9},
      {"m": "GFS 0.250°", "h": 122, "v": 68.7}, {"m": "GFS 0.250°", "h": 123, "v": 67.4}, {"m": "GFS 0.250°", "h": 124, "v": 65.9},
      {"m": "GFS 0.250°", "h": 125, "v": 63.6}, {"m": "GFS 0.250°", "h": 126, "v": 62.2}, {"m": "GFS 0.250°", "h": 127, "v": 62.2},
      {"m": "GFS 0.250°", "h": 128, "v": 66.7}, {"m": "GFS 0.250°", "h": 129, "v": 73.3}, {"m": "GFS 0.250°", "h": 130, "v": 77.5},
      {"m": "GFS 0.250°", "h": 131, "v": 79.3}, {"m": "GFS 0.250°", "h": 134, "v": 84.6}, {"m": "GFS 0.250°", "h": 137, "v": 81.4},
      {"m": "GFS 0.250°", "h": 140, "v": 68.4}, {"m": "GFS 0.250°", "h": 143, "v": 61.8}, {"m": "GFS 0.250°", "h": 146, "v": 57.2},
      {"m": "GFS 0.250°", "h": 149, "v": 46.9}, {"m": "GFS 0.250°", "h": 152, "v": 62.3}, {"m": "GFS 0.250°", "h": 155, "v": 68.2},
      {"m": "GFS 0.250°", "h": 158, "v": 77.5}, {"m": "GFS 0.250°", "h": 161, "v": 78.4}, {"m": "GFS 0.250°", "h": 164, "v": 66.9},
      {"m": "GFS 0.250°", "h": 167, "v": 63.4}, {"m": "GFS 0.250°", "h": 170, "v": 49.0}, {"m": "GFS 0.250°", "h": 173, "v": 42.4},
      {"m": "GFS 0.250°", "h": 176, "v": 51.5}, {"m": "GFS 0.250°", "h": 179, "v": 69.5}, {"m": "GFS 0.250°", "h": 182, "v": 79.2},
      {"m": "GFS 0.250°", "h": 185, "v": 73.8}, {"m": "GFS 0.250°", "h": 188, "v": 56.5}, {"m": "GFS 0.250°", "h": 191, "v": 50.9},
      {"m": "GFS 0.250°", "h": 194, "v": 48.0}, {"m": "GFS 0.250°", "h": 197, "v": 42.4}, {"m": "GFS 0.250°", "h": 200, "v": 53.7},
      {"m": "GFS 0.250°", "h": 203, "v": 68.0}, {"m": "GFS 0.250°", "h": 206, "v": 78.5}, {"m": "GFS 0.250°", "h": 209, "v": 79.2},
      {"m": "GFS 0.250°", "h": 212, "v": 64.6}, {"m": "GFS 0.250°", "h": 215, "v": 58.4},

      {"m": "NBM", "h": 12, "v": 73.5}, {"m": "NBM", "h": 13, "v": 76.4}, {"m": "NBM", "h": 14, "v": 78.8},
      {"m": "NBM", "h": 15, "v": 78.9}, {"m": "NBM", "h": 16, "v": 78.8}, {"m": "NBM", "h": 17, "v": 74.5},
      {"m": "NBM", "h": 18, "v": 71.8}, {"m": "NBM", "h": 19, "v": 66.5}, {"m": "NBM", "h": 20, "v": 62.6},
      {"m": "NBM", "h": 21, "v": 58.4}, {"m": "NBM", "h": 22, "v": 55.4}, {"m": "NBM", "h": 23, "v": 53.7},
      {"m": "NBM", "h": 24, "v": 51.0}, {"m": "NBM", "h": 25, "v": 49.3}, {"m": "NBM", "h": 26, "v": 46.5},
      {"m": "NBM", "h": 27, "v": 45.2}, {"m": "NBM", "h": 28, "v": 45.2}, {"m": "NBM", "h": 29, "v": 42.8},
      {"m": "NBM", "h": 30, "v": 38.3}, {"m": "NBM", "h": 31, "v": 35.8}, {"m": "NBM", "h": 32, "v": 35.8},
      {"m": "NBM", "h": 33, "v": 34.8}, {"m": "NBM", "h": 34, "v": 37.8}, {"m": "NBM", "h": 35, "v": 40.7},
      {"m": "NBM", "h": 36, "v": 43.3}, {"m": "NBM", "h": 37, "v": 46.1}, {"m": "NBM", "h": 38, "v": 48.3},
      {"m": "NBM", "h": 39, "v": 45.8}, {"m": "NBM", "h": 40, "v": 44.7}, {"m": "NBM", "h": 41, "v": 40.2},
      {"m": "NBM", "h": 42, "v": 30.5}, {"m": "NBM", "h": 43, "v": 29.3}, {"m": "NBM", "h": 44, "v": 25.2},
      {"m": "NBM", "h": 45, "v": 25.1}, {"m": "NBM", "h": 46, "v": 22.5}, {"m": "NBM", "h": 47, "v": 24.7},
      {"m": "NBM", "h": 50, "v": 20.2}, {"m": "NBM", "h": 53, "v": 19.1}, {"m": "NBM", "h": 56, "v": 13.7},
      {"m": "NBM", "h": 59, "v": 28.2}, {"m": "NBM", "h": 62, "v": 46.8}, {"m": "NBM", "h": 65, "v": 45.0},
      {"m": "NBM", "h": 68, "v": 32.3}, {"m": "NBM", "h": 71, "v": 31.4}, {"m": "NBM", "h": 74, "v": 28.1},
      {"m": "NBM", "h": 77, "v": 27.5}, {"m": "NBM", "h": 80, "v": 27.5}, {"m": "NBM", "h": 83, "v": 43.8},
      {"m": "NBM", "h": 86, "v": 61.4}, {"m": "NBM", "h": 89, "v": 60.7}, {"m": "NBM", "h": 92, "v": 43.3},
      {"m": "NBM", "h": 95, "v": 40.3}, {"m": "NBM", "h": 98, "v": 36.1}, {"m": "NBM", "h": 101, "v": 32.6},
      {"m": "NBM", "h": 104, "v": 30.7}, {"m": "NBM", "h": 107, "v": 44.0}, {"m": "NBM", "h": 110, "v": 63.8},
      {"m": "NBM", "h": 113, "v": 62.9}, {"m": "NBM", "h": 116, "v": 44.4}, {"m": "NBM", "h": 119, "v": 43.3},
      {"m": "NBM", "h": 122, "v": 41.5}, {"m": "NBM", "h": 125, "v": 41.0}, {"m": "NBM", "h": 128, "v": 40.4},
      {"m": "NBM", "h": 131, "v": 55.2}, {"m": "NBM", "h": 134, "v": 69.0}, {"m": "NBM", "h": 137, "v": 68.5},
      {"m": "NBM", "h": 140, "v": 52.7}, {"m": "NBM", "h": 143, "v": 47.3}, {"m": "NBM", "h": 146, "v": 43.3},
      {"m": "NBM", "h": 149, "v": 39.6}, {"m": "NBM", "h": 152, "v": 36.5}, {"m": "NBM", "h": 155, "v": 48.7},
      {"m": "NBM", "h": 158, "v": 64.0}, {"m": "NBM", "h": 161, "v": 62.2}, {"m": "NBM", "h": 164, "v": 48.1},
      {"m": "NBM", "h": 167, "v": 43.5}, {"m": "NBM", "h": 170, "v": 39.0}, {"m": "NBM", "h": 173, "v": 36.1},
      {"m": "NBM", "h": 176, "v": 32.2}, {"m": "NBM", "h": 179, "v": 44.5}, {"m": "NBM", "h": 182, "v": 61.2},
      {"m": "NBM", "h": 185, "v": 59.2}, {"m": "NBM", "h": 188, "v": 44.5}, {"m": "NBM", "h": 191, "v": 40.6},
      {"m": "NBM", "h": 194, "v": 36.4}, {"m": "NBM", "h": 197, "v": 33.6}, {"m": "NBM", "h": 200, "v": 31.2},
      {"m": "NBM", "h": 203, "v": 42.5}, {"m": "NBM", "h": 209, "v": 56.8}, {"m": "NBM", "h": 215, "v": 38.9}
    ]
  },
  "layer": [
    {
      "mark": {"type": "point", "filled": true, "strokeWidth": 1, "opacity": 1},
      "encoding": {
        "x": {
          "field": "h",
          "type": "quantitative",
          "scale": {"domain": [0, 216], "nice": false, "zero": false},
          "axis": {
            "orient": "bottom",
            "values": [0, 24, 48, 72, 96, 120, 144, 168, 192, 216],
            "labelExpr": "['08/27','08/28','08/29','08/30','08/31','09/01','09/02','09/03','09/04','09/05'][round(datum.value / 24)]",
            "title": "Date",
            "grid": false,
            "domain": false,
            "tickSize": -11,
            "labelPadding": 31,
            "titlePadding": 16
          }
        },
        "y": {
          "field": "v",
          "type": "quantitative",
          "scale": {"domain": [0, 100], "nice": false},
          "axis": {
            "orient": "left",
            "values": [0, 20, 40, 60, 80, 100],
            "title": "Firebrand ignition probability (%)",
            "grid": false,
            "domain": false,
            "tickSize": -11,
            "labelPadding": 26,
            "titlePadding": 29
          }
        },
        "fill": {
          "field": "m",
          "type": "nominal",
          "scale": {
            "domain": ["ECMWF", "HRRR", "NAM 3 km", "NAM 12 km", "GFS 0.125°", "GFS 0.250°", "NBM"],
            "range": ["#0000cc", "#006400", "#ff0000", "#000000", "#c0c0c0", "#87ceeb", "#ffa500"]
          },
          "legend": {"title": null}
        },
        "stroke": {
          "field": "m",
          "type": "nominal",
          "scale": {
            "domain": ["ECMWF", "HRRR", "NAM 3 km", "NAM 12 km", "GFS 0.125°", "GFS 0.250°", "NBM"],
            "range": ["#0000cc", "#006400", "#ff0000", "#000000", "#c0c0c0", "#87ceeb", "#ffa500"]
          },
          "legend": {"title": null}
        },
        "shape": {
          "field": "m",
          "type": "nominal",
          "scale": {
            "domain": ["ECMWF", "HRRR", "NAM 3 km", "NAM 12 km", "GFS 0.125°", "GFS 0.250°", "NBM"],
            "range": [
              "square",
              "circle",
              "triangle-up",
              "triangle-down",
              "diamond",
              "M0,-1L0.951,-0.309L0.588,0.809L-0.588,0.809L-0.951,-0.309Z",
              "M-1,0L1,0M0,-1L0,1M-0.707,-0.707L0.707,0.707M-0.707,0.707L0.707,-0.707"
            ]
          },
          "legend": {"title": null}
        },
        "size": {
          "field": "m",
          "type": "nominal",
          "scale": {
            "domain": ["ECMWF", "HRRR", "NAM 3 km", "NAM 12 km", "GFS 0.125°", "GFS 0.250°", "NBM"],
            "range": [72, 110, 140, 140, 115, 115, 160]
          },
          "legend": {"title": null}
        }
      }
    },
    {
      "mark": {"type": "point", "opacity": 0},
      "encoding": {
        "x": {
          "field": "h",
          "type": "quantitative",
          "axis": {
            "orient": "top",
            "values": [0, 24, 48, 72, 96, 120, 144, 168, 192, 216],
            "labels": false,
            "title": null,
            "grid": false,
            "domain": false,
            "tickSize": -11
          }
        },
        "y": {
          "field": "v",
          "type": "quantitative",
          "axis": {
            "orient": "right",
            "values": [0, 20, 40, 60, 80, 100],
            "labels": false,
            "title": null,
            "grid": false,
            "domain": false,
            "tickSize": -11
          }
        }
      }
    }
  ],
  "resolve": {"axis": {"x": "independent", "y": "independent"}},
  "config": {
    "font": "DejaVu Sans",
    "view": {"stroke": "black", "strokeWidth": 1},
    "axis": {
      "labelFontSize": 23,
      "labelColor": "black",
      "tickColor": "black",
      "tickWidth": 1,
      "titleFontSize": 24,
      "titleFontWeight": "bold",
      "titleColor": "black",
      "labelFlush": false,
      "labelOverlap": false
    },
    "legend": {
      "orient": "none",
      "legendX": 1253,
      "legendY": 13,
      "padding": 0,
      "labelFontSize": 24,
      "labelColor": "black",
      "labelAlign": "right",
      "labelOffset": -62,
      "rowPadding": 4,
      "symbolStrokeWidth": 1,
      "symbolOpacity": 1
    }
  }
}
